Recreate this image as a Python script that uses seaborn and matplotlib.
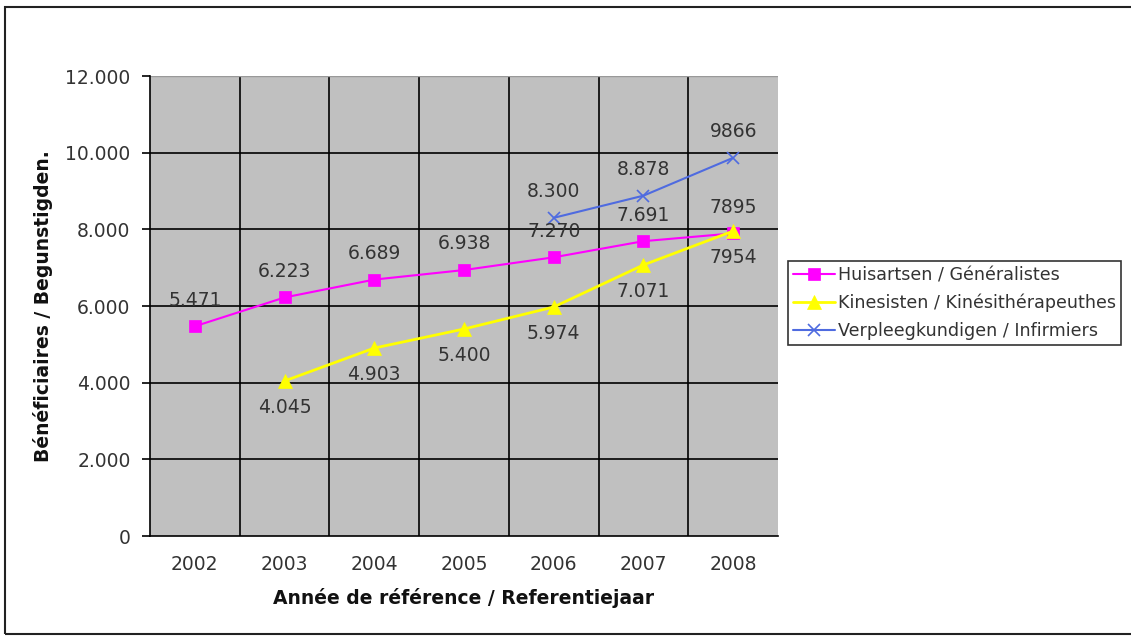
import pandas as pd
import matplotlib
matplotlib.use("Agg")
import matplotlib.pyplot as plt
import seaborn as sns

# data
years = [2002, 2003, 2004, 2005, 2006, 2007, 2008]
huisartsen = [5471, 6223, 6689, 6938, 7270, 7691, 7895]
huisartsen_labels = ["5.471", "6.223", "6.689", "6.938", "7.270", "7.691", "7895"]
kine_years = [2003, 2004, 2005, 2006, 2007, 2008]
kine = [4045, 4903, 5400, 5974, 7071, 7954]
kine_labels = ["4.045", "4.903", "5.400", "5.974", "7.071", "7954"]
verpl_years = [2006, 2007, 2008]
verpl = [8300, 8878, 9866]
verpl_labels = ["8.300", "8.878", "9866"]
yticks = [0, 2000, 4000, 6000, 8000, 10000, 12000]
ytick_labels = ["0", "2.000", "4.000", "6.000", "8.000", "10.000", "12.000"]

sns.set_style("white")
plt.rcParams['font.family'] = ['DejaVu Sans']
txt = '#333333'
fs = 13.5

fig = plt.figure(figsize=(11.31, 6.37), dpi=100)
ax = fig.add_axes([150 / 1131, 101 / 637, 628 / 1131, 460 / 637])
ax.set_facecolor('#C0C0C0')

series = [
    (years, huisartsen, huisartsen_labels, '#FF00FF', 's', 9, 1.5, 'Huisartsen / Généralistes', 12),
    (kine_years, kine, kine_labels, '#FFFF00', '^', 10, 2.0, 'Kinesisten / Kinésithérapeuthes', -26),
    (verpl_years, verpl, verpl_labels, '#4F6BE0', 'x', 8, 1.5, 'Verpleegkundigen / Infirmiers', 12),
]

for xs, ys, labs, col, mk, ms, lw, name, dy in series:
    df = pd.DataFrame({'year': xs, 'value': ys})
    sns.lineplot(data=df, x='year', y='value', ax=ax, color=col, marker=mk,
                 markersize=ms, linewidth=lw, markeredgecolor=col,
                 markeredgewidth=1.2 if mk == 'x' else 0.5, label=name, legend=False)
    for x, y, l in zip(xs, ys, labs):
        ax.annotate(l, (x, y), xytext=(0, dy), textcoords='offset points',
                    ha='center', va='bottom', fontsize=fs, color=txt)

ax.set_xlim(2001.5, 2008.5)
ax.set_ylim(0, 12000)
ax.set_yticks(yticks)
ax.set_yticklabels(ytick_labels)
ax.set_xticks(years)
ax.set_xticks([y + 0.5 for y in years[:-1]] + [2001.5, 2008.5], minor=True)
ax.grid(False)
for b in [y + 0.5 for y in years[:-1]]:
    ax.axvline(b, color='black', linewidth=1.2, zorder=0.5)
for t in yticks[1:-1]:
    ax.axhline(t, color='black', linewidth=1.2, zorder=0.5)
ax.axhline(12000, color='#999999', linewidth=1, zorder=0.5)

ax.tick_params(axis='x', which='major', length=0, pad=14, labelsize=fs, labelcolor=txt)
ax.tick_params(axis='x', which='minor', length=7, width=1.2, direction='out', color='black')
ax.tick_params(axis='y', length=6, width=1.2, direction='out', color='black', left=True,
               labelsize=fs, labelcolor=txt, pad=8)
for s in ['top', 'right']:
    ax.spines[s].set_visible(False)
for s in ['left', 'bottom']:
    ax.spines[s].set_color('black')
    ax.spines[s].set_linewidth(1.2)

ax.set_xlabel('Année de référence / Referentiejaar', fontsize=fs, fontweight='bold',
              color='#111111', labelpad=10)
ax.set_ylabel('Bénéficiaires / Begunstigden.', fontsize=fs, fontweight='bold',
              color='#111111', labelpad=9)

h, l = ax.get_legend_handles_labels()
leg = fig.legend(h, l, loc='upper left', bbox_to_anchor=(788 / 1131, (637 - 261) / 637),
                 frameon=True, fancybox=False, fontsize=12.6, handlelength=2.4,
                 handletextpad=0.15, borderpad=0.3, labelspacing=0.55, borderaxespad=0)
leg.get_frame().set_edgecolor('black')
leg.get_frame().set_linewidth(1.2)
for t in leg.get_texts():
    t.set_color(txt)

# outer chart frame
fig.patches.append(plt.Rectangle((5 / 1131, 3 / 637), 1.2, 627 / 637,
                                 transform=fig.transFigure, fill=False,
                                 edgecolor='#222222', linewidth=1.5))

fig.savefig('out.png', dpi=100)
